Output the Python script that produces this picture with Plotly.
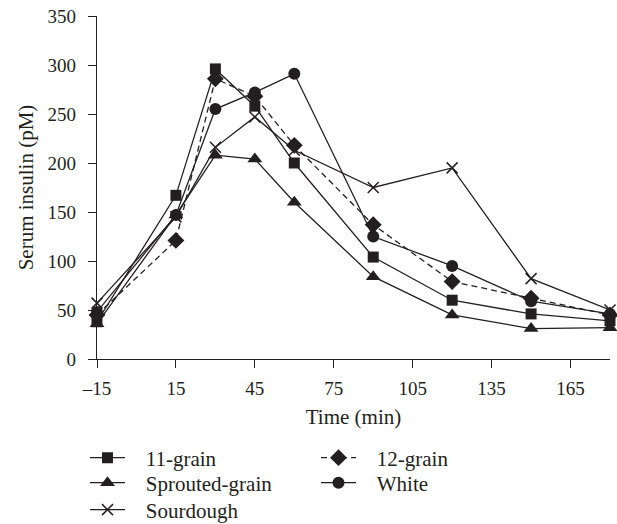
import plotly.graph_objects as go

times = [-15, 15, 30, 45, 60, 90, 120, 150, 180]
grain11 = [38, 167, 296, 258, 200, 104, 60, 46, 39]
sprouted = [36, 147, 208, 204, 160, 84, 45, 31, 32]
sourdough = [57, 145, 216, 247, 213, 175, 195, 82, 50]
grain12 = [45, 121, 286, 268, 218, 137, 79, 62, 45]
white = [48, 147, 255, 272, 291, 125, 95, 59, 46]

x_tickvals = [-15, 15, 45, 75, 105, 135, 165]
x_ticktext = ["\u201315", "15", "45", "75", "105", "135", "165"]
y_tickvals = [0, 50, 100, 150, 200, 250, 300, 350]

FONT = "Liberation Serif"
INK = "#231f20"
PAD = "\u00a0\u00a0\u00a0"
fig = go.Figure()

def add(name, y, symbol, legend, dash="solid", size=11, lw=0):
    fig.add_trace(go.Scatter(
        x=times, y=y, name=PAD + name, mode="lines+markers", legend=legend,
        showlegend=True,
        line=dict(color=INK, width=1.3, dash=dash),
        marker=dict(symbol=symbol, size=size, color=INK,
                    line=dict(color=INK, width=lw)),
        cliponaxis=False,
    ))

add("11-grain", grain11, "square", "legend")
add("Sprouted-grain", sprouted, "triangle-up", "legend2", size=13)
add("Sourdough", sourdough, "x-thin", "legend3", size=11, lw=1.5)
add("12-grain", grain12, "diamond", "legend4", dash="6px,4px", size=13)
add("White", white, "circle", "legend5", size=12)

legfont = dict(family=FONT, size=21, color=INK)

def leg(x, y):
    return dict(x=x, y=y, xanchor="left", yanchor="middle", font=legfont,
                bgcolor="rgba(0,0,0,0)", itemwidth=35, visible=True)

fig.update_layout(
    width=617, height=524,
    showlegend=True,
    margin=dict(l=97, r=7, t=16, b=165, autoexpand=False),
    paper_bgcolor="white", plot_bgcolor="white",
    font=dict(family=FONT, size=19, color=INK),
    xaxis=dict(range=[-15, 180], tickvals=x_tickvals, ticktext=x_ticktext,
               showgrid=False, zeroline=False, showline=True, linecolor=INK,
               linewidth=1.2, ticks="outside", ticklen=8, tickcolor=INK,
               tickfont=dict(size=19), ticklabelstandoff=4,
               title=dict(text="Time (min)", standoff=11, font=dict(size=21))),
    yaxis=dict(range=[0, 350], tickvals=y_tickvals,
               showgrid=False, zeroline=False, showline=True, linecolor=INK,
               linewidth=1.2, ticks="outside", ticklen=8, tickcolor=INK,
               tickfont=dict(size=19), ticklabelstandoff=8,
               title=dict(text="Serum insulin (pM)", standoff=8, font=dict(size=21))),
    legend=leg(-0.0234, -0.2886),
    legend2=leg(-0.0234, -0.3615),
    legend3=leg(-0.0234, -0.4402),
    legend4=leg(0.4269, -0.2886),
    legend5=leg(0.4269, -0.3615),
)

fig.write_html("out.html", post_script="document.body.style.margin='0';",
               config={"displayModeBar": False})
